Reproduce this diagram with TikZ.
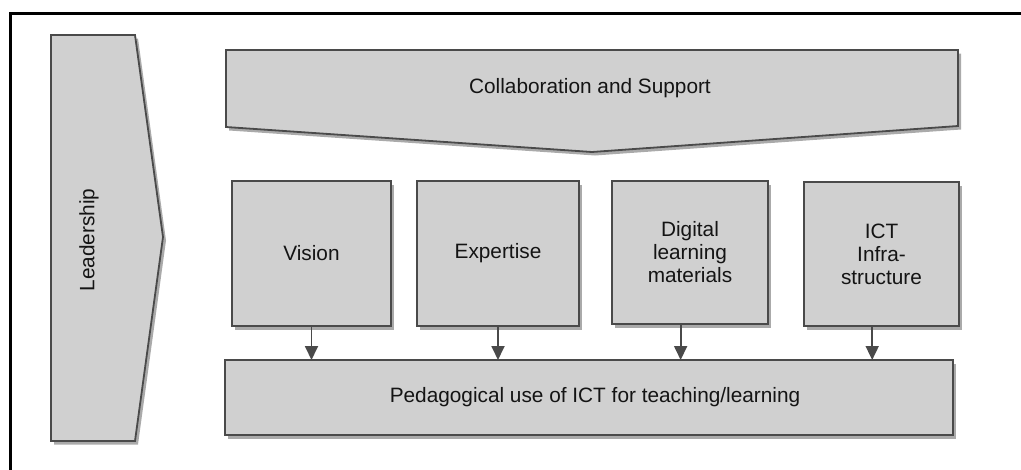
\documentclass[tikz,border=0pt]{standalone}
\usepackage{fontspec}
\setmainfont{Liberation Sans}
\usetikzlibrary{calc,arrows.meta,shadows}
\definecolor{boxfill}{HTML}{D0D0D0}
\definecolor{boxline}{HTML}{4A4A4A}
\definecolor{shadecol}{HTML}{959595}
\begin{document}
\begin{tikzpicture}[x=1pt,y=-1pt,
  lbl/.style={font=\fontsize{20.8}{23}\selectfont, align=center, text=black!92},
  shp/.style={draw=boxline, line width=1.8pt, fill=boxfill, line join=miter,
    drop shadow={shadow xshift=3pt, shadow yshift=-3.5pt, fill=shadecol, opacity=0.8}},
  blk/.style={shp, inner sep=0pt, outer sep=0pt},
  arr/.style={draw=boxline, line width=1.8pt, -{Triangle[length=14pt,width=13pt]}, color=boxline}]
\useasboundingbox (0,0) rectangle (1021,469);
% outer frame (cropped on the right and bottom)
\draw[line width=3pt] (10,480) -- (10,13) -- (1030,13);
% Leadership
\draw[shp] (51,35) -- (135,35) -- (163,237) -- (135,441) -- (51,441) -- cycle;
\node[lbl, rotate=90] (lead) at (89,240) {Leadership};
% Collaboration and Support
\draw[shp] (226,50) -- (958,50) -- (958,126) -- (592,152) -- (226,127) -- cycle;
\node[lbl] (collab) at (590,88) {Collaboration and Support};
% Middle boxes
\node[blk, lbl, minimum width=159pt, minimum height=145pt] (vision) at (311.5,253.5) {Vision};
\node[blk, lbl, minimum width=162pt, minimum height=145pt] (expert) at (498,253.5) {Expertise};
\node[blk, lbl, minimum width=156pt, minimum height=143pt] (digital) at (690,252.5) {Digital\\learning\\materials};
\node[blk, lbl, minimum width=155pt, minimum height=144pt] (ict) at (881.5,254) {ICT\\Infra-\\structure};
% Bottom box
\node[blk, minimum width=728pt, minimum height=75pt,
  label={[lbl, xshift=6pt]center:Pedagogical use of ICT for teaching/learning}] (ped) at (589,397.5) {};
% Arrows
\draw[arr] (vision.south) -- (vision.south |- ped.north);
\draw[arr] (expert.south) -- (expert.south |- ped.north);
\coordinate (dg) at ($(digital.south west)!0.44!(digital.south east)$);
\coordinate (ic) at ($(ict.south west)!0.44!(ict.south east)$);
\draw[arr] (dg) -- (dg |- ped.north);
\draw[arr] (ic) -- (ic |- ped.north);
\end{tikzpicture}
\end{document}
